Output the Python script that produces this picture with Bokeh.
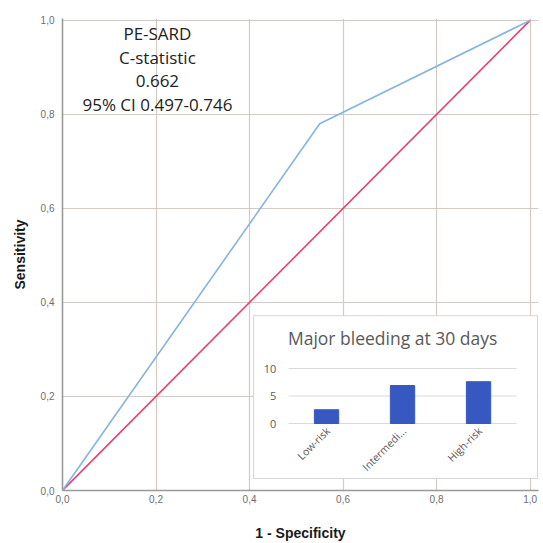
from bokeh.plotting import figure
from bokeh.models import Range1d, FixedTicker, CustomJSTickFormatter
from bokeh.core.properties import value
from bokeh.embed import file_html
from bokeh.resources import INLINE
import math

# ---- data ----
roc_fpr = [0.0, 0.55, 1.0]
roc_tpr = [0.0, 0.78, 1.0]
ref_fpr = [0.0, 1.0]
ref_tpr = [0.0, 1.0]
axis_ticks = [0.0, 0.2, 0.4, 0.6, 0.8, 1.0]
stat_lines = ["PE-SARD", "C-statistic", "0.662", "95% CI 0.497-0.746"]
inset_title = "Major bleeding at 30 days"
risk_groups = ["Low-risk", "Intermedi...", "High-risk"]
bleeding_pct = [2.5, 6.9, 7.6]
inset_ticks = [0, 5, 10]

# ---- figure ----
p = figure(width=543, height=543, output_backend="svg", toolbar_location=None,
           x_range=Range1d(0, 1.018), y_range=Range1d(0, 1.004),
           min_border_left=62, min_border_right=5, min_border_top=18,
           min_border_bottom=53)
p.outline_line_color = None
p.background_fill_color = "white"
p.border_fill_color = "white"

# inset scales (mapped onto a sub-region of the frame)
p.extra_x_ranges = {"ix": Range1d(-3.474, 2.789)}
p.extra_y_ranges = {"iy": Range1d(-12.18, 73.64)}

fmt = CustomJSTickFormatter(code="return tick.toFixed(1).replace('.', ',');")
for ax in (p.xaxis[0], p.yaxis[0]):
    ax.ticker = FixedTicker(ticks=axis_ticks)
    ax.formatter = fmt
    ax.axis_line_color = "#9a9a9a"
    ax.axis_line_width = 1.6
    ax.major_tick_out = 0
    ax.major_tick_in = 0
    ax.minor_tick_out = 0
    ax.minor_tick_in = 0
    ax.major_label_text_font = "Liberation Sans"
    ax.major_label_text_font_size = "10px"
    ax.major_label_text_color = "#6e6e6e"
    ax.axis_label_text_font = "Liberation Sans"
    ax.axis_label_text_font_size = "14px"
    ax.axis_label_text_font_style = "bold"
    ax.axis_label_text_color = "#1a1a1a"

p.xaxis.axis_label = "1 - Specificity"
p.yaxis.axis_label = "Sensitivity"
p.xaxis.major_label_standoff = 4
p.xaxis.axis_label_standoff = 19
p.yaxis.major_label_standoff = 8
p.yaxis.axis_label_standoff = 10
p.yaxis.major_label_orientation = "horizontal"

for g in (p.xgrid[0], p.ygrid[0]):
    g.ticker = FixedTicker(ticks=axis_ticks)
    g.grid_line_color = "#d3cbc3"
    g.grid_line_width = 1.2

# ROC lines
p.line(ref_fpr, ref_tpr, line_color="#e2436c", line_width=1.6)
p.line(roc_fpr, roc_tpr, line_color="#86b4e2", line_width=1.6)

# statistics text block
top_y = 0.972
step = 0.0505
p.text(x=[0.203] * len(stat_lines),
       y=[top_y - i * step for i in range(len(stat_lines))],
       text=stat_lines, text_align="center", text_baseline="middle",
       text_font=value("Open Sans"), text_font_size="17px", text_color="#222222")

# ---- inset bar chart ----
ik = dict(x_range_name="ix", y_range_name="iy")
p.quad(left=-0.96, right=2.776, bottom=-10.0, top=19.6,
       fill_color="white", line_color="#d6d6d6", line_width=1, **ik)
p.segment(x0=[-0.5] * len(inset_ticks), x1=[2.5] * len(inset_ticks),
          y0=inset_ticks, y1=inset_ticks, line_color="#d9d9d9", line_width=1, **ik)
idx = list(range(len(risk_groups)))
p.vbar(x=idx, top=bleeding_pct, bottom=0, width=0.32,
       fill_color="#3658c0", line_color="#3658c0", **ik)
p.text(x=[-0.66] * len(inset_ticks), y=inset_ticks, text=[str(t) for t in inset_ticks],
       text_align="right", text_baseline="middle",
       text_font=value("Open Sans"), text_font_size="11px", text_color="#595959", **ik)
p.text(x=[i + 0.02 for i in idx], y=[-1.0] * len(idx), text=risk_groups,
       angle=math.pi / 4, text_align="right", text_baseline="middle",
       text_font=value("Open Sans"), text_font_size="10.5px", text_color="#595959", **ik)
p.text(x=[0.87], y=[15.5], text=[inset_title], text_align="center",
       text_baseline="middle", text_font=value("Open Sans"), text_font_size="17.5px",
       text_color="#595959", **ik)

open("out.html", "w").write(file_html(p, INLINE))
